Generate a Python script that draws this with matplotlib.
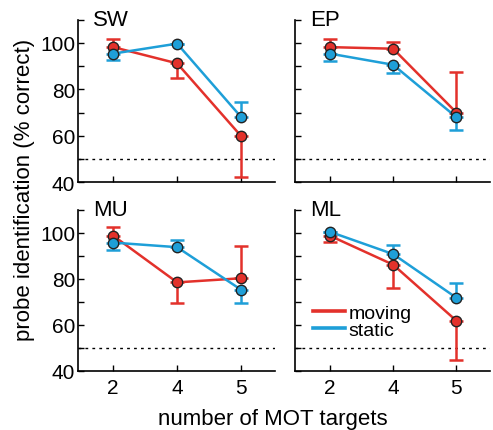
import matplotlib
matplotlib.use("Agg")
import matplotlib.pyplot as plt
import numpy as np

plt.rcParams['font.family'] = ['Liberation Sans', 'DejaVu Sans']

RED = '#e3312b'
BLUE = '#1e9fd8'

n_targets = ['2', '4', '5']
panels = ['SW', 'EP', 'MU', 'ML']

# mean % correct per panel, and the end of the one-sided error bar
moving = {
    'SW': [98.2, 91.2, 59.9],
    'EP': [98.2, 97.5, 70.0],
    'MU': [98.7, 78.4, 80.2],
    'ML': [98.7, 86.1, 61.7],
}
moving_err = {
    'SW': [101.8, 85.0, 42.3],
    'EP': [101.9, 100.6, 87.6],
    'MU': [102.3, 69.4, 94.3],
    'ML': [96.1, 75.8, 44.8],
}
static = {
    'SW': [95.4, 99.7, 68.1],
    'EP': [95.4, 90.6, 68.0],
    'MU': [95.7, 93.7, 75.2],
    'ML': [100.4, 90.7, 71.7],
}
static_err = {
    'SW': [92.5, 99.7, 74.5],
    'EP': [92.2, 87.2, 62.4],
    'MU': [92.6, 97.0, 69.4],
    'ML': [100.4, 94.8, 78.0],
}

chance = 50

W, H = 493, 431
fig = plt.figure(figsize=(W / 100, H / 100), dpi=100)

boxes = {
    'SW': [78, 20.7, 275, 183.3],
    'EP': [295, 20.7, 490, 183.3],
    'MU': [78, 210.7, 275, 371.7],
    'ML': [295, 210.7, 490, 371.7],
}


def draw_series(ax, x, y, yerr_end, color, label):
    y = np.array(y)
    e = np.array(yerr_end)
    lower = np.clip(y - e, 0, None)
    upper = np.clip(e - y, 0, None)
    ax.errorbar(x, y, yerr=[lower, upper], fmt='none', ecolor=color,
                elinewidth=1.8, capsize=5, capthick=1.8, zorder=2)
    ax.plot(x, y, color=color, lw=1.8, zorder=3, label=label)
    ax.plot(x, y, 'o', ms=7.5, mfc=color, mec='#222222', mew=1, zorder=4)


x = np.arange(len(n_targets))
for name in panels:
    l, t, r, b = boxes[name]
    ax = fig.add_axes([l / W, 1 - b / H, (r - l) / W, (b - t) / H])
    ax.axhline(chance, color='black', ls=(0, (2, 3)), lw=1, zorder=1)
    draw_series(ax, x, moving[name], moving_err[name], RED, 'moving')
    draw_series(ax, x, static[name], static_err[name], BLUE, 'static')

    ax.set_xlim(-0.55, 2.53)
    ax.set_ylim(40, 110)
    ax.set_xticks(x)
    ax.set_yticks(np.arange(40, 111, 10))
    if name in ('MU', 'ML'):
        ax.set_xticklabels(n_targets)
    else:
        ax.set_xticklabels([])
    if name in ('SW', 'MU'):
        ax.set_yticklabels(['40', '', '60', '', '80', '', '100', ''])
    else:
        ax.set_yticklabels([])
    ax.tick_params(direction='in', length=4, width=1, labelsize=15, pad=2)
    ax.tick_params(axis='x', pad=5)
    for s in ('top', 'right'):
        ax.spines[s].set_visible(False)
    for s in ('left', 'bottom'):
        ax.spines[s].set_linewidth(1.2)
    ax.text(0.075, 1.0, name, transform=ax.transAxes, fontsize=16,
            va='center', ha='left')
    if name == 'ML':
        leg = ax.legend(loc='lower left', bbox_to_anchor=(0.052, 0.147),
                        frameon=False, fontsize=14, handlelength=1.65,
                        handletextpad=0.2, labelspacing=0.0, borderaxespad=0)
        for ln in leg.get_lines():
            ln.set_linewidth(2.6)

fig.text(273 / W, 1 - 420 / H, 'number of MOT targets', ha='center',
         va='center', fontsize=16)
fig.text(25 / W, 1 - 190 / H, 'probe identification (% correct)', ha='center',
         va='center', rotation=90, fontsize=16)

fig.savefig('out.png', dpi=100)
